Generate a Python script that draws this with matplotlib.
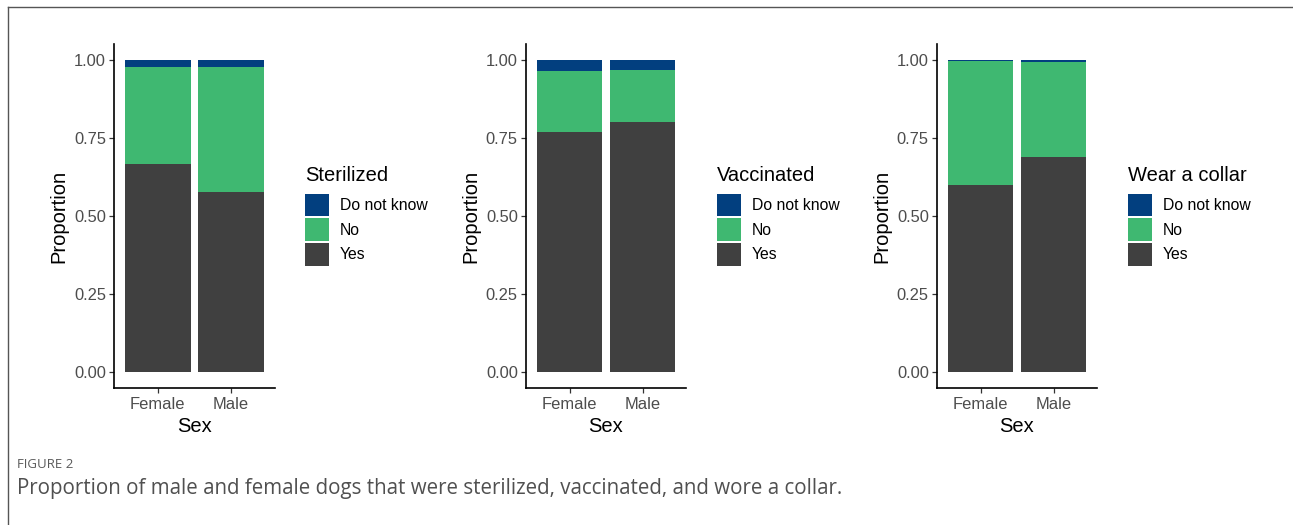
import numpy as np
import matplotlib.pyplot as plt
from matplotlib.lines import Line2D

plt.rcParams['font.family'] = ['Liberation Sans', 'DejaVu Sans']

sexes = ["Female", "Male"]
answers = ["Yes", "No", "Do not know"]
titles = ["Sterilized", "Vaccinated", "Wear a collar"]

# proportions per panel, rows = answers (Yes, No, Do not know), columns = sexes
sterilized = [[0.667, 0.577], [0.311, 0.402], [0.022, 0.021]]
vaccinated = [[0.768, 0.800], [0.196, 0.169], [0.036, 0.031]]
collar = [[0.599, 0.689], [0.397, 0.305], [0.004, 0.006]]
panels = [sterilized, vaccinated, collar]

colors = {"Yes": "#404040", "No": "#3fb871", "Do not know": "#023f7f"}

W, H = 1293, 525
fig = plt.figure(figsize=(W / 100, H / 100), dpi=100)

lefts = [114, 525.7, 936.7]
ax_w, ax_top, ax_bot = 160.6, 44.4, 387.6

for left, data, title in zip(lefts, panels, titles):
    ax = fig.add_axes([left / W, 1 - ax_bot / H, ax_w / W, (ax_bot - ax_top) / H])
    x = np.arange(1, len(sexes) + 1)
    bottom = np.zeros(len(sexes))
    bars = []
    for ans, vals in zip(answers, data):
        b = ax.bar(x, vals, width=0.9, bottom=bottom, color=colors[ans], label=ans,
                   edgecolor='none')
        bars.append(b)
        bottom = bottom + np.array(vals)

    ax.set_xlim(0.4, 2.6)
    ax.set_ylim(-0.05, 1.05)
    ax.set_xticks(x)
    ax.set_xticklabels(sexes)
    ax.set_yticks([0, 0.25, 0.5, 0.75, 1.0])
    ax.set_yticklabels(["0.00", "0.25", "0.50", "0.75", "1.00"])
    ax.tick_params(axis='both', labelsize=11.9, labelcolor='#4d4d4d', color='#333333',
                   length=3.3, width=0.9, pad=2.4)
    ax.tick_params(axis='x', pad=3.2)
    for s in ['top', 'right']:
        ax.spines[s].set_visible(False)
    for s in ['left', 'bottom']:
        ax.spines[s].set_linewidth(1.2)
        ax.spines[s].set_color('black')
    ax.set_xlabel("Sex", fontsize=14.5, labelpad=4)
    ax.set_ylabel("Proportion", fontsize=14.5, labelpad=4)

    # legend: keys in reverse stacking order, title drawn separately
    lx = (left + 191) / W
    fig.text(lx, 1 - 181 / H, title, fontsize=14.5, ha='left', va='baseline')
    ax.legend(bars[::-1], answers[::-1], loc='upper left',
              bbox_to_anchor=(lx, 1 - 193.5 / H), bbox_transform=fig.transFigure,
              frameon=False, fontsize=11.3, handlelength=1.52, handleheight=1.877,
              labelspacing=0.1, handletextpad=0.7, borderpad=0, borderaxespad=0)

# frame around the figure
fig.add_artist(Line2D([8 / W, 8 / W], [0, 1 - 7 / H], transform=fig.transFigure,
                      color='#555555', lw=1))
fig.add_artist(Line2D([8 / W, 1], [1 - 7 / H, 1 - 7 / H], transform=fig.transFigure,
                      color='#555555', lw=1))

fig.text(17 / W, 1 - 468 / H, "FIGURE 2", fontsize=9.5, color='#5a5a5a',
         family=['Open Sans', 'DejaVu Sans'], ha='left', va='baseline')
fig.text(17 / W, 1 - 494 / H,
         "Proportion of male and female dogs that were sterilized, vaccinated, and wore a collar.",
         fontsize=14.8, color='#505050', family=['Open Sans', 'DejaVu Sans'],
         ha='left', va='baseline')

fig.savefig("out.png", dpi=100)
